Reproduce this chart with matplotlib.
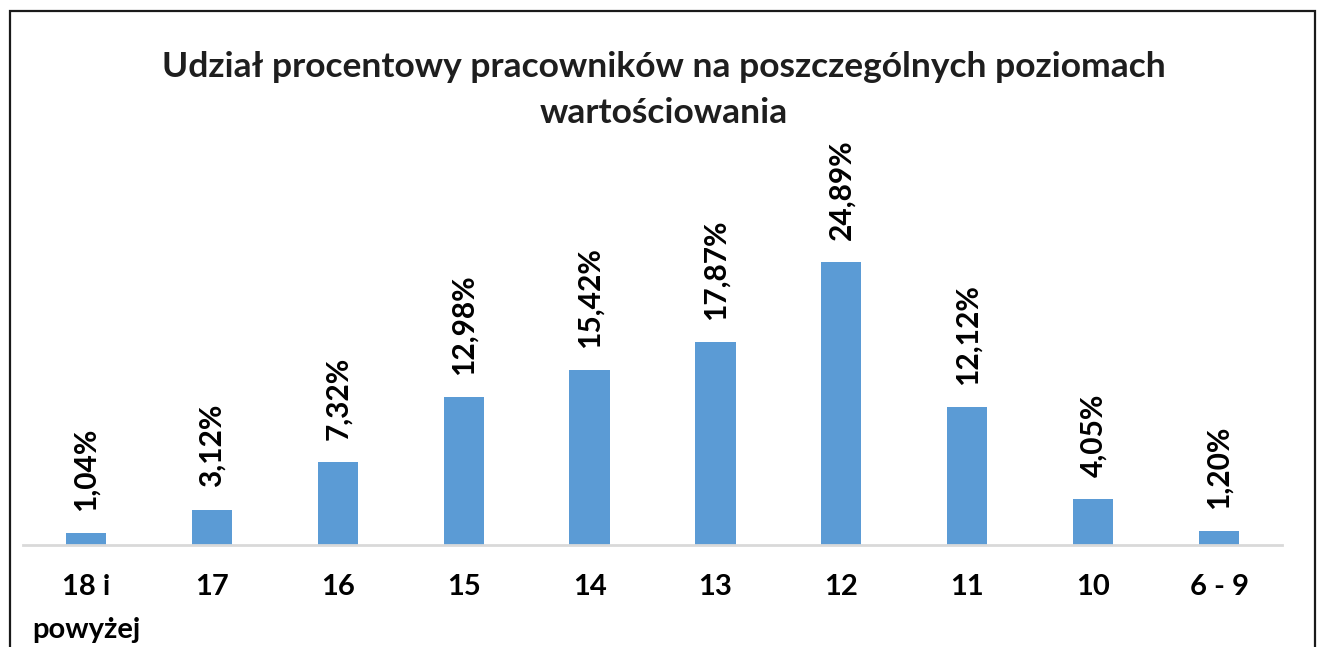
import matplotlib
matplotlib.use("Agg")
import matplotlib.pyplot as plt
from matplotlib.patches import Rectangle

categories = ["18 i\npowyżej", "17", "16", "15", "14", "13", "12", "11", "10", "6 - 9"]
values = [1.04, 3.12, 7.32, 12.98, 15.42, 17.87, 24.89, 12.12, 4.05, 1.20]
value_labels = ["1,04%", "3,12%", "7,32%", "12,98%", "15,42%", "17,87%", "24,89%", "12,12%", "4,05%", "1,20%"]
title = "Udział procentowy pracowników na poszczególnych poziomach\nwartościowania"

W, H = 1322, 647
fig = plt.figure(figsize=(W / 100, H / 100), dpi=100)
plt.rcParams['font.family'] = ['Lato', 'DejaVu Sans']

# axes in pixel coords
left, right = 23, 1282
bottom, top = 545, 204
ax = fig.add_axes([left / W, 1 - bottom / H, (right - left) / W, (bottom - top) / H])
x = list(range(len(categories)))
ax.bar(x, values, width=0.32, color="#5B9BD5", zorder=2)
ax.set_xlim(-0.5, len(categories) - 0.5)
ax.set_ylim(0, 30)
for s in ["top", "right", "left"]:
    ax.spines[s].set_visible(False)
ax.spines["bottom"].set_color("#d9d9d9")
ax.spines["bottom"].set_linewidth(2)
ax.set_yticks([])
ax.set_xticks(x)
ax.set_xticklabels(categories, fontsize=21, fontweight="bold", color="black", linespacing=1.78)
ax.tick_params(axis="x", length=0, pad=21)

for xi, v, lab in zip(x, values, value_labels):
    ax.annotate(lab, (xi, v), xytext=(0, 16), textcoords="offset points",
                rotation=90, ha="center", va="bottom", fontsize=21.5,
                fontweight="bold", color="black")

fig.text(664 / W, 1 - 90 / H, title, ha="center", va="center", fontsize=25.5,
         fontweight="bold", color="#1e1e1e", linespacing=1.54)

fig.patches.append(Rectangle((9.5 / W, -0.1), (1315 - 9.5) / W, 1.1 - 10.5 / H,
                             transform=fig.transFigure, fill=False,
                             edgecolor="#1a1a1a", linewidth=1.6))

fig.savefig("out.png", dpi=100)
